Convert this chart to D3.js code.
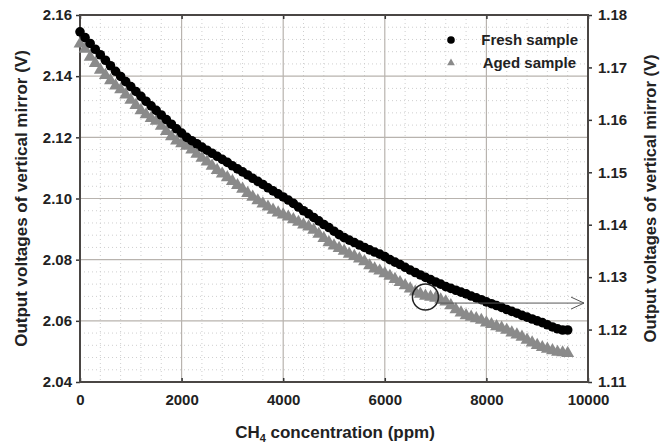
<!DOCTYPE html>
<html>
<head>
<meta charset="utf-8">
<script src="https://cdn.jsdelivr.net/npm/d3@7"></script>
<style>
  body { margin: 0; background: #fff; }
  text { font-family: "Liberation Sans", Arial, sans-serif; font-weight: bold; fill: #222; }
</style>
</head>
<body>
<div id="chart"></div>
<script>
// concentration (ppm), one reading every 100 ppm
const ppm = d3.range(0, 9601, 100);

// fresh sample, left axis (V)
const freshValues = [
  2.1545, 2.1526, 2.1507, 2.1488, 2.1470, 2.1452, 2.1434, 2.1416, 2.1399, 2.1382,
  2.1366, 2.1350, 2.1334, 2.1318, 2.1303, 2.1288, 2.1273, 2.1258, 2.1243, 2.1228,
  2.1214, 2.1200, 2.1189, 2.1179, 2.1168, 2.1158, 2.1148, 2.1138, 2.1128, 2.1118,
  2.1107, 2.1097, 2.1087, 2.1077, 2.1066, 2.1056, 2.1046, 2.1035, 2.1025, 2.1015,
  2.1005, 2.0995, 2.0984, 2.0972, 2.0960, 2.0950, 2.0938, 2.0927, 2.0915, 2.0905,
  2.0893, 2.0882, 2.0872, 2.0864, 2.0856, 2.0848, 2.0840, 2.0832, 2.0825, 2.0818,
  2.0810, 2.0800, 2.0792, 2.0784, 2.0775, 2.0766, 2.0758, 2.0750, 2.0742, 2.0735,
  2.0727, 2.0720, 2.0712, 2.0706, 2.0700, 2.0694, 2.0688, 2.0681, 2.0675, 2.0669,
  2.0662, 2.0656, 2.0650, 2.0644, 2.0637, 2.0631, 2.0625, 2.0618, 2.0612, 2.0606,
  2.0600, 2.0594, 2.0587, 2.0580, 2.0574, 2.0570, 2.0570
];

// aged sample, right axis (V)
const agedValues = [
  1.1745, 1.1735, 1.1720, 1.1708, 1.1695, 1.1685, 1.1675, 1.1665, 1.1658, 1.1648,
  1.1638, 1.1628, 1.1618, 1.1610, 1.1603, 1.1598, 1.1588, 1.1578, 1.1568, 1.1560,
  1.1555, 1.1550, 1.1543, 1.1535, 1.1527, 1.1520, 1.1512, 1.1504, 1.1497, 1.1490,
  1.1483, 1.1475, 1.1468, 1.1460, 1.1453, 1.1446, 1.1440, 1.1434, 1.1428, 1.1423,
  1.1419, 1.1415, 1.1410, 1.1405, 1.1400, 1.1396, 1.1390, 1.1382, 1.1374, 1.1366,
  1.1360, 1.1355, 1.1350, 1.1344, 1.1340, 1.1335, 1.1330, 1.1322, 1.1316, 1.1312,
  1.1307, 1.1302, 1.1296, 1.1290, 1.1284, 1.1278, 1.1272, 1.1268, 1.1264, 1.1262,
  1.1260, 1.1257, 1.1253, 1.1246, 1.1238, 1.1232, 1.1227, 1.1224, 1.1221, 1.1218,
  1.1213, 1.1210, 1.1206, 1.1203, 1.1199, 1.1194, 1.1190, 1.1186, 1.1180, 1.1175,
  1.1170, 1.1166, 1.1163, 1.1160, 1.1157, 1.1156, 1.1155
];

const xTicks = [0, 2000, 4000, 6000, 8000, 10000];
const leftTicks = [2.04, 2.06, 2.08, 2.10, 2.12, 2.14, 2.16];
const rightTicks = [1.11, 1.12, 1.13, 1.14, 1.15, 1.16, 1.17, 1.18];
const seriesNames = ["Fresh sample", "Aged sample"];
// circled point of the aged sample, arrow goes to the right axis
const markPoint = { ppm: 6800, value: 1.1262 };

const width = 663, height = 445;
const margin = { left: 80, right: 75, top: 15, bottom: 63 };

const svg = d3.select("#chart").append("svg")
  .attr("width", width)
  .attr("height", height);

const x = d3.scaleLinear().domain([0, 10000]).range([margin.left, width - margin.right]);
const yL = d3.scaleLinear().domain([2.04, 2.16]).range([height - margin.bottom, margin.top]);
const yR = d3.scaleLinear().domain([1.11, 1.18]).range([height - margin.bottom, margin.top]);

const x0 = x.range()[0], x1 = x.range()[1];
const yBot = yL.range()[0], yTop = yL.range()[1];

// minor dotted grid
const minorX = d3.range(400, 10000, 400).filter(v => v % 2000 !== 0);
const minorY = d3.range(2.044, 2.16, 0.004).filter(v => Math.abs(v * 50 - Math.round(v * 50)) > 1e-6);
svg.append("g").selectAll("line").data(minorX).enter().append("line")
  .attr("x1", d => x(d)).attr("x2", d => x(d))
  .attr("y1", yTop).attr("y2", yBot)
  .attr("stroke", "#cfcfcf").attr("stroke-dasharray", "1,3");
svg.append("g").selectAll("line").data(minorY).enter().append("line")
  .attr("x1", x0).attr("x2", x1)
  .attr("y1", d => yL(d)).attr("y2", d => yL(d))
  .attr("stroke", "#cfcfcf").attr("stroke-dasharray", "1,3");

// major grid
svg.append("g").selectAll("line").data(xTicks.slice(1, -1)).enter().append("line")
  .attr("x1", d => x(d)).attr("x2", d => x(d))
  .attr("y1", yTop).attr("y2", yBot)
  .attr("stroke", "#b8b3ae").attr("stroke-width", 1.2);
svg.append("g").selectAll("line").data(leftTicks.slice(1, -1)).enter().append("line")
  .attr("x1", x0).attr("x2", x1)
  .attr("y1", d => yL(d)).attr("y2", d => yL(d))
  .attr("stroke", "#b8b3ae").attr("stroke-width", 1.2);

// axes
const axisStyle = g => {
  g.select(".domain").remove();
  g.selectAll(".tick line").attr("stroke", "#333").attr("stroke-width", 1.5);
  g.selectAll(".tick text").attr("font-size", 15).attr("font-family", "Liberation Sans, Arial, sans-serif")
    .attr("font-weight", "bold").attr("fill", "#222");
};

svg.append("g").attr("transform", `translate(0,${yBot})`)
  .call(d3.axisBottom(x).tickValues(xTicks).tickFormat(d3.format("d")).tickSizeInner(-4).tickSizeOuter(0).tickPadding(12))
  .call(axisStyle);
svg.append("g").attr("transform", `translate(0,${yTop})`)
  .call(d3.axisTop(x).tickValues(xTicks).tickSizeInner(-4).tickSizeOuter(0).tickFormat(""))
  .call(axisStyle);
svg.append("g").attr("transform", `translate(${x0},0)`)
  .call(d3.axisLeft(yL).tickValues(leftTicks).tickFormat(d3.format(".2f")).tickSizeInner(4).tickSizeOuter(0).tickPadding(4))
  .call(axisStyle);
svg.append("g").attr("transform", `translate(${x1},0)`)
  .call(d3.axisRight(yR).tickValues(rightTicks).tickFormat(d3.format(".2f")).tickSizeInner(4).tickSizeOuter(0).tickPadding(6))
  .call(axisStyle);

// frame
svg.append("rect")
  .attr("x", x0).attr("y", yTop)
  .attr("width", x1 - x0).attr("height", yBot - yTop)
  .attr("fill", "none").attr("stroke", "#4a4644").attr("stroke-width", 2);

// data
const fresh = ppm.map((p, i) => ({ ppm: p, v: freshValues[i] }));
const aged = ppm.map((p, i) => ({ ppm: p, v: agedValues[i] }));

const tri = d3.symbol().type(d3.symbolTriangle).size(72);

svg.append("g").selectAll("path").data(aged).enter().append("path")
  .attr("d", tri)
  .attr("transform", d => `translate(${x(d.ppm)},${yR(d.v)})`)
  .attr("fill", "#8a8a8a");

svg.append("g").selectAll("circle").data(fresh).enter().append("circle")
  .attr("cx", d => x(d.ppm))
  .attr("cy", d => yL(d.v))
  .attr("r", 4.8)
  .attr("fill", "#000");

// circled point with arrow to right axis
const cx = x(markPoint.ppm), cy = yR(markPoint.value);
const cr = 13;
svg.append("circle")
  .attr("cx", cx).attr("cy", cy).attr("r", cr)
  .attr("fill", "none").attr("stroke", "#222").attr("stroke-width", 1.5);
const ay = cy + 6;
const ax1 = x1 - 4;
svg.append("line")
  .attr("x1", cx + Math.sqrt(cr * cr - 36)).attr("x2", ax1)
  .attr("y1", ay).attr("y2", ay)
  .attr("stroke", "#555").attr("stroke-width", 1);
svg.append("path")
  .attr("d", `M${ax1 - 13},${ay - 6}L${ax1},${ay}L${ax1 - 13},${ay + 6}`)
  .attr("fill", "none").attr("stroke", "#555").attr("stroke-width", 1);

// legend
const legend = svg.append("g");
legend.append("circle").attr("cx", 451).attr("cy", 40).attr("r", 3.8).attr("fill", "#000");
legend.append("path").attr("d", d3.symbol().type(d3.symbolTriangle).size(26))
  .attr("transform", "translate(451,63)").attr("fill", "#8a8a8a");
legend.append("text").attr("x", 578).attr("y", 45).attr("text-anchor", "end")
  .attr("font-size", 15).text(seriesNames[0]);
legend.append("text").attr("x", 576).attr("y", 68).attr("text-anchor", "end")
  .attr("font-size", 15).text(seriesNames[1]);

// axis titles
svg.append("text")
  .attr("transform", `translate(27,${(yTop + yBot) / 2}) rotate(-90)`)
  .attr("text-anchor", "middle").attr("font-size", 17)
  .text("Output voltages of vertical mirror (V)");
svg.append("text")
  .attr("transform", `translate(656,${(yTop + yBot) / 2}) rotate(-90)`)
  .attr("text-anchor", "middle").attr("font-size", 16.5)
  .text("Output voltages of vertical mirror (V)");

const xt = svg.append("text")
  .attr("x", 335).attr("y", 438)
  .attr("text-anchor", "middle").attr("font-size", 17);
xt.append("tspan").text("CH");
xt.append("tspan").attr("font-size", 11).attr("dy", 4).text("4");
xt.append("tspan").attr("dy", -4).text(" concentration (ppm)");
</script>
</body>
</html>
